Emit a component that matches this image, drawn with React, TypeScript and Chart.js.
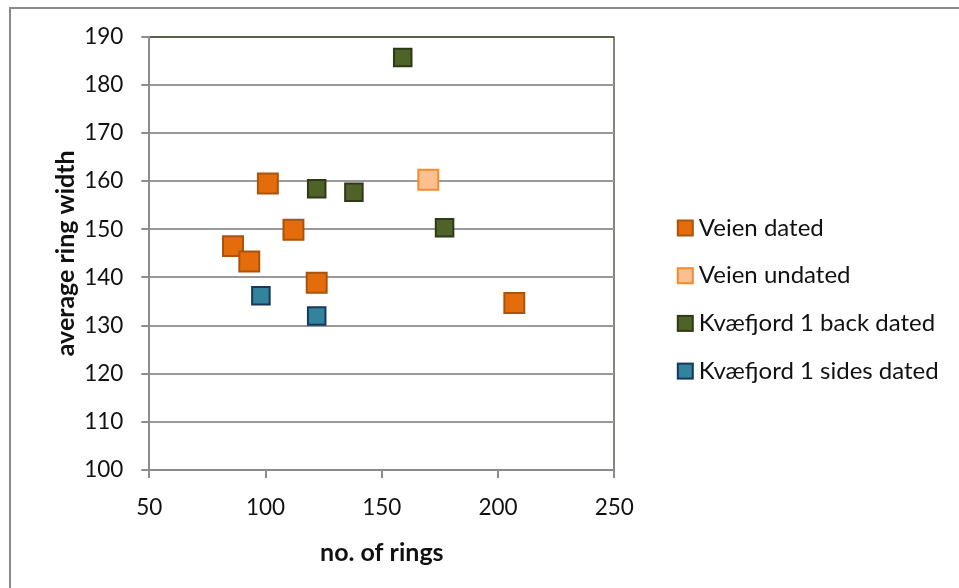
import React, { useEffect, useRef } from "react";
import { Chart, registerables } from "chart.js";

Chart.register(...registerables);

const seriesNames = ["Veien dated", "Veien undated", "Kvæfjord 1 back dated", "Kvæfjord 1 sides dated"];

const veienDatedX = [86, 93, 101, 112, 122, 207];
const veienDatedY = [146.5, 143.3, 159.5, 149.9, 138.9, 134.7];

const veienUndatedX = [170];
const veienUndatedY = [160.3];

const kvaefjordBackX = [122, 138, 159, 177];
const kvaefjordBackY = [158.4, 157.7, 185.7, 150.3];

const kvaefjordSidesX = [98, 122];
const kvaefjordSidesY = [136.2, 132.0];

const xTicksMin = 50;
const xTicksMax = 250;
const xStep = 50;
const yTicksMin = 100;
const yTicksMax = 190;
const yStep = 10;

const fills = ["#E46C0A", "#FAC090", "#4F6228", "#31849B"];
const borders = ["#A9540C", "#F58A2E", "#2E3A17", "#17375E"];
const radii = [14.1, 14.1, 12.4, 12.4];

const toPoints = (xs: number[], ys: number[]) => xs.map((x, i) => ({ x, y: ys[i] }));

const FONT = "Lato, 'Open Sans', sans-serif";

const frameAndLegend = {
  id: "frameAndLegend",
  beforeDraw(chart: any) {
    const ctx = chart.ctx;
    ctx.save();
    ctx.fillStyle = "#ffffff";
    ctx.fillRect(0, 0, chart.width, chart.height);
    ctx.fillStyle = "#8a8a8a";
    ctx.fillRect(9, 7, 2, chart.height - 7);
    ctx.fillRect(9, 7, chart.width - 9, 2);
    ctx.restore();
  },
  afterDraw(chart: any) {
    const ctx = chart.ctx;
    const area = chart.chartArea;
    ctx.save();
    const x0 = area.right + 62.5;
    const y0 = 228;
    const gap = 47.7;
    chart.data.datasets.forEach((ds: any, i: number) => {
      const cy = y0 + i * gap;
      ctx.fillStyle = ds.backgroundColor;
      ctx.strokeStyle = ds.borderColor;
      ctx.lineWidth = 2;
      ctx.fillRect(x0 + 1, cy - 7.5, 15, 15);
      ctx.strokeRect(x0 + 1, cy - 7.5, 15, 15);
      ctx.fillStyle = "#111";
      ctx.font = `24px ${FONT}`;
      ctx.textBaseline = "middle";
      ctx.textAlign = "left";
      ctx.fillText(ds.label, x0 + 22, cy);
    });
    ctx.restore();
  },
};

export default function App() {
  const ref = useRef<HTMLCanvasElement | null>(null);

  useEffect(() => {
    document.body.style.margin = "0";
    if (!ref.current) return;
    const xsList = [veienDatedX, veienUndatedX, kvaefjordBackX, kvaefjordSidesX];
    const ysList = [veienDatedY, veienUndatedY, kvaefjordBackY, kvaefjordSidesY];
    const chart = new Chart(ref.current, {
      type: "scatter",
      data: {
        datasets: seriesNames.map((name, i) => ({
          label: name,
          data: toPoints(xsList[i], ysList[i]),
          backgroundColor: fills[i],
          borderColor: borders[i],
          borderWidth: 2,
          pointStyle: "rect",
          pointRadius: radii[i],
          pointHoverRadius: radii[i],
        })),
      },
      options: {
        responsive: false,
        animation: false,
        events: [],
        layout: { padding: { left: 0, top: 36.7, right: 344.7, bottom: 0 } },
        plugins: { legend: { display: false }, tooltip: { enabled: false } },
        scales: {
          x: {
            type: "linear",
            min: xTicksMin,
            max: xTicksMax,
            afterFit: (s: any) => {
              s.height = 118;
            },
            ticks: {
              stepSize: xStep,
              padding: 16,
              color: "#111",
              font: { family: FONT, size: 22.5 },
            },
            grid: {
              color: (c: any) => (c.tick && c.tick.value === xTicksMax ? "#80867a" : "rgba(0,0,0,0)"),
              tickColor: "#8c8c8c",
              lineWidth: 2,
              tickLength: 8,
            },
            border: { display: true, color: "#8c8c8c", width: 2 },
            title: {
              display: true,
              text: "no. of rings",
              color: "#111",
              font: { family: FONT, size: 25, weight: "bold" },
              padding: { top: 0, bottom: 20 },
            },
          },
          y: {
            type: "linear",
            min: yTicksMin,
            max: yTicksMax,
            afterFit: (s: any) => {
              s.width = 149.3;
            },
            ticks: {
              stepSize: yStep,
              padding: 18,
              color: "#111",
              font: { family: FONT, size: 22.5 },
            },
            grid: {
              color: (c: any) => (c.tick && c.tick.value === yTicksMax ? "#56604a" : "#999999"),
              tickColor: "#8c8c8c",
              lineWidth: 2,
              tickLength: 8,
            },
            border: { display: true, color: "#8c8c8c", width: 2 },
            title: {
              display: true,
              text: "average ring width",
              color: "#111",
              font: { family: FONT, size: 25, weight: "bold" },
              padding: { top: 51, bottom: 0 },
            },
          },
        },
      },
      plugins: [frameAndLegend],
    });
    return () => chart.destroy();
  }, []);

  return (
    <div style={{ width: 959, height: 588, position: "relative" }}>
      <canvas ref={ref} width={959} height={588} style={{ display: "block" }} />
    </div>
  );
}
